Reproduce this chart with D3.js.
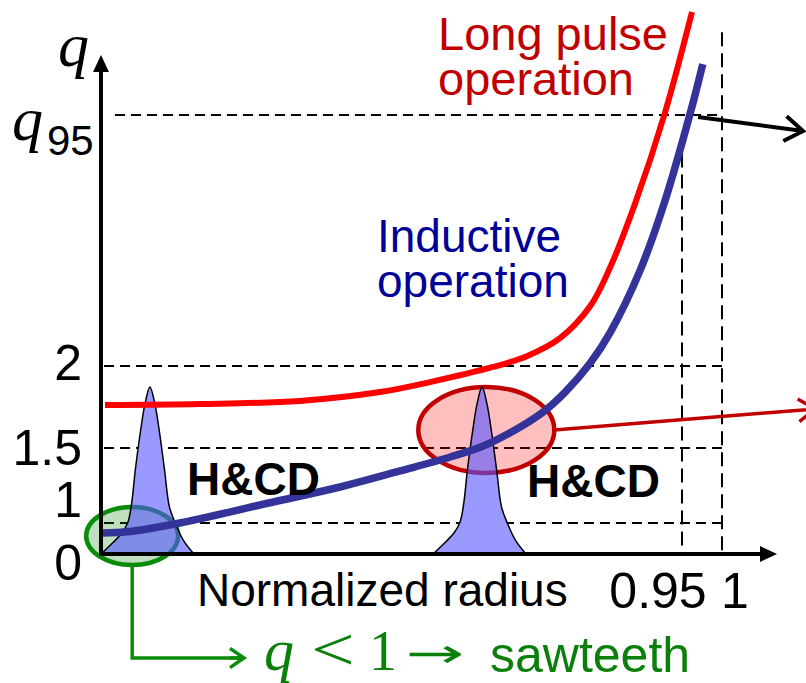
<!DOCTYPE html>
<html>
<head>
<meta charset="utf-8">
<script src="https://cdn.jsdelivr.net/npm/d3@7"></script>
<style>
  html, body { margin: 0; padding: 0; background: #fff; }
  svg { display: block; }
  text { font-family: "Liberation Sans", Arial, sans-serif; }
</style>
</head>
<body>
<svg id="chart" width="806" height="683"></svg>
<script>
// tick values / labels
var qTicks = [0, 1, 1.5, 2];
var qTickLabels = ["0", "1", "1.5", "2"];
var q95 = 3;
var rTicks = [0.95, 1];
var rTickLabels = ["0.95", "1"];

// q profiles
var rLong = [0.0065, 0.162, 0.325, 0.456, 0.538, 0.641, 0.697, 0.751, 0.800, 0.832, 0.873, 0.922, 0.9625];
var qLong = [1.762, 1.768, 1.787, 1.841, 1.902, 1.994, 2.040, 2.112, 2.239, 2.390, 2.645, 3.008, 3.41];
var rInd = [0.0016, 0.0474, 0.129, 0.26, 0.391, 0.489, 0.571, 0.625, 0.677, 0.723, 0.759, 0.80, 0.832, 0.881, 0.922, 0.96, 0.976];
var qInd = [0.677, 0.726, 1.0, 1.12, 1.24, 1.347, 1.44, 1.512, 1.61, 1.72, 1.841, 2.012, 2.131, 2.378, 2.657, 3.004, 3.203];

// H&CD deposition, same shape at two radii (arb. units)
var hcdCenters = [0.08, 0.623];
var hcdOffset = [-0.080, -0.060, -0.045, -0.036, -0.030, -0.024, -0.016, -0.008, 0, 0.008, 0.016, 0.024, 0.032, 0.042, 0.055, 0.072];
var hcdPower = [0, 0.07, 0.13, 0.19, 0.30, 0.50, 0.72, 0.90, 1, 0.90, 0.72, 0.50, 0.28, 0.18, 0.08, 0];

// highlighted regions: q<1 core and q=1.5 surface
var spotR = [0.051, 0.630];
var spotQ = [0.58, 1.61];

var svg = d3.select("#chart");
var x = d3.scaleLinear().domain([0, 0.95, 1]).range([101, 682, 722]);
var y = d3.scaleLinear().domain([0, 1, 1.5, 2, q95]).range([554, 523, 448, 366, 115]);
var p = d3.scaleLinear().domain([0, 1]).range([554, 387]);
var serif = "'Liberation Serif', 'DejaVu Serif', serif";

// dashed guides
var guides = svg.append("g").attr("stroke", "#000").attr("stroke-width", 2).attr("fill", "none");
qTicks.slice(1).concat([q95]).forEach(function (v) {
  guides.append("line")
    .attr("x1", x(0) + (v === q95 ? 14 : 3)).attr("x2", x(1))
    .attr("y1", y(v)).attr("y2", y(v))
    .attr("stroke-dasharray", "10,6");
});
guides.append("line").attr("x1", x(0.95)).attr("x2", x(0.95))
  .attr("y1", y(2.93)).attr("y2", y(0)).attr("stroke-dasharray", "14,7");
guides.append("line").attr("x1", x(1)).attr("x2", x(1))
  .attr("y1", y(3.33)).attr("y2", y(0)).attr("stroke-dasharray", "14,7");

var hcdArea = d3.area()
  .x(function (d) { return x(d[0]); })
  .y0(p(0))
  .y1(function (d) { return p(d[1]); })
  .curve(d3.curveCatmullRom);

function hcdPoints(c) {
  return hcdOffset.map(function (o, i) { return [c + o, hcdPower[i]]; });
}

// white underlay so the dashes vanish behind the peaks
svg.append("g").selectAll("path").data(hcdCenters).join("path")
  .attr("d", function (c) { return hcdArea(hcdPoints(c)); })
  .attr("fill", "#fff");

// ellipses
var spotStyle = [
  { rx: 46, ry: 29, fill: "rgba(0,128,0,0.25)", stroke: "#0a8c0a" },
  { rx: 68, ry: 43, fill: "rgba(255,0,0,0.25)", stroke: "#c00000" }
];
svg.append("g").selectAll("ellipse").data(spotR).join("ellipse")
  .attr("cx", function (d) { return x(d); })
  .attr("cy", function (d, i) { return y(spotQ[i]); })
  .attr("rx", function (d, i) { return spotStyle[i].rx; })
  .attr("ry", function (d, i) { return spotStyle[i].ry; })
  .attr("fill", function (d, i) { return spotStyle[i].fill; })
  .attr("stroke", function (d, i) { return spotStyle[i].stroke; })
  .attr("stroke-width", 4.5);

// H&CD peaks
svg.append("g").selectAll("path").data(hcdCenters).join("path")
  .attr("d", function (c) { return hcdArea(hcdPoints(c)); })
  .attr("fill", "#5555ff").attr("fill-opacity", 0.6)
  .attr("stroke", "#000").attr("stroke-width", 1.5);

// q profiles
var line = d3.line()
  .x(function (d) { return x(d[0]); })
  .y(function (d) { return y(d[1]); })
  .curve(d3.curveCatmullRom.alpha(0.5));

svg.append("path")
  .attr("d", line(rLong.map(function (r, i) { return [r, qLong[i]]; })))
  .attr("fill", "none").attr("stroke", "#ff0000").attr("stroke-width", 6);
svg.append("path")
  .attr("d", line(rInd.map(function (r, i) { return [r, qInd[i]]; })))
  .attr("fill", "none").attr("stroke", "#333399").attr("stroke-width", 7.5);

// axes with arrow heads
var axes = svg.append("g");
axes.append("line").attr("x1", x(0)).attr("x2", x(0)).attr("y1", y(0) + 2).attr("y2", 68)
  .attr("stroke", "#000").attr("stroke-width", 4);
axes.append("path").attr("d", "M" + x(0) + ",55 L" + (x(0) - 8) + ",72 L" + (x(0) + 8) + ",72 Z").attr("fill", "#000");
axes.append("line").attr("x1", x(0) - 2).attr("x2", 764).attr("y1", y(0)).attr("y2", y(0))
  .attr("stroke", "#000").attr("stroke-width", 4);
axes.append("path").attr("d", "M777," + y(0) + " L760," + (y(0) - 8) + " L760," + (y(0) + 8) + " Z").attr("fill", "#000");

function chevron(g, x1, y1, x2, y2, len, color, w) {
  var a = Math.atan2(y2 - y1, x2 - x1), s = 0.6;
  g.append("path")
    .attr("d", "M" + x1 + "," + y1 + " L" + x2 + "," + y2 +
      " M" + (x2 - len * Math.cos(a - s)) + "," + (y2 - len * Math.sin(a - s)) +
      " L" + x2 + "," + y2 +
      " L" + (x2 - len * Math.cos(a + s)) + "," + (y2 - len * Math.sin(a + s)))
    .attr("fill", "none").attr("stroke", color).attr("stroke-width", w)
    .attr("stroke-linejoin", "miter").attr("stroke-linecap", "butt");
}

// q95 pointer
chevron(svg, 698, y(q95) + 2, 803, 131, 22, "#000", 4);
// red pointer from q=1.5 region
chevron(svg, x(spotR[1]) + spotStyle[1].rx, y(spotQ[1]), 815, 409, 20, "#c00000", 3.5);
// green pointer from core
var gx = x(spotR[0]);
svg.append("path")
  .attr("d", "M" + gx + "," + (y(spotQ[0]) + spotStyle[0].ry) + " L" + gx + ",658 L243,658")
  .attr("fill", "none").attr("stroke", "#0a8c0a").attr("stroke-width", 3.5);
chevron(svg, 230, 658, 244, 658, 17, "#0a8c0a", 3.5);

// tick labels
var tickDy = [26, -6, 17, 14];
svg.append("g").selectAll("text").data(qTicks).join("text")
  .attr("x", 82).attr("y", function (d, i) { return y(d) + tickDy[i]; })
  .attr("text-anchor", "end").attr("font-size", 50)
  .text(function (d, i) { return qTickLabels[i]; });

var rDx = [-24, 13];
svg.append("g").selectAll("text").data(rTicks).join("text")
  .attr("x", function (d, i) { return x(d) + rDx[i]; }).attr("y", 608)
  .attr("text-anchor", "middle").attr("font-size", 50)
  .text(function (d, i) { return rTickLabels[i]; });

svg.append("text").attr("x", 197).attr("y", 606).attr("font-size", 46).text("Normalized radius");

// axis symbols
svg.append("text").attr("x", 58).attr("y", 66)
  .style("font-family", serif).attr("font-style", "italic").attr("font-size", 62).text("q");
var q95t = svg.append("text").attr("x", 12).attr("y", 140);
q95t.append("tspan").style("font-family", serif)
  .attr("font-style", "italic").attr("font-size", 62).text("q");
q95t.append("tspan").attr("x", 47).attr("y", 155).attr("font-size", 42).text("95");

// curve labels
var lp = svg.append("text").attr("fill", "#c00000").attr("font-size", 47);
lp.append("tspan").attr("x", 438).attr("y", 50).text("Long pulse");
lp.append("tspan").attr("x", 438).attr("y", 95).text("operation");
var ind = svg.append("text").attr("fill", "#000099").attr("font-size", 46);
ind.append("tspan").attr("x", 377).attr("y", 252).text("Inductive");
ind.append("tspan").attr("x", 377).attr("y", 297).text("operation");

svg.append("text").attr("x", 187).attr("y", 495).attr("font-size", 46).attr("font-weight", "bold").text("H&CD");
svg.append("text").attr("x", 527).attr("y", 497).attr("font-size", 46).attr("font-weight", "bold").text("H&CD");

// sawteeth note
var g = svg.append("g").attr("fill", "#0a800a");
g.append("text").attr("x", 264).attr("y", 670).style("font-family", serif).attr("font-style", "italic").attr("font-size", 60).text("q");
g.append("text").attr("transform", "translate(311,670) scale(1.25,1)").style("font-family", serif).attr("font-size", 62).text("<");
g.append("text").attr("x", 369).attr("y", 670).style("font-family", serif).attr("font-size", 56).text("1");
g.append("text").attr("transform", "translate(406,667) scale(1.75,1)")
  .style("font-family", "'DejaVu Sans', sans-serif").attr("font-size", 40).text("\u2192");
g.append("text").attr("x", 490).attr("y", 672).attr("font-size", 50).text("sawteeth");
</script>
</body>
</html>
